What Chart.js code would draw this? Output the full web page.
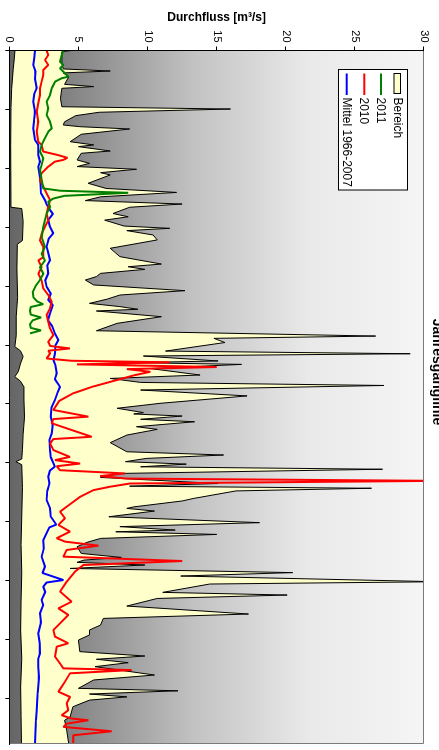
<!DOCTYPE html>
<html>
<head>
<meta charset="utf-8">
<title>Jahresganglinie</title>
<script src="https://cdn.jsdelivr.net/npm/chart.js@4.4.1/dist/chart.umd.min.js"></script>
<style>
  html, body { margin: 0; padding: 0; width: 439px; height: 750px; overflow: hidden; background: #fff; }
  /* the chart is laid out landscape and turned a quarter turn clockwise */
  #frame { position: absolute; left: 0; top: 0; width: 750px; height: 460px;
           transform-origin: 0 0; transform: translate(449px, 0) rotate(90deg); }
  canvas { display: block; }
</style>
</head>
<body>
<div id="frame"><canvas id="chart" width="750" height="460"></canvas></div>
<script>
// Day-of-year tick positions on the time axis
const dayTicks = [0, 31, 62, 93, 124, 155, 186, 217, 248, 279, 310, 341];

// Series as [day, discharge m³/s]
const rangeMax = [
  [0,4.5],[0.6,3.8],[6.8,3.8],[9.7,3.9],[10.8,7.3],[11.8,3.9],[13.8,4.3],[17.8,4.0],[19,6.1],[19.9,3.8],
  [25.2,3.7],[29.6,3.8],[30.8,16.0],[32.5,6.5],[34.3,4.8],[37.5,4.0],[39.2,3.9],[40.1,5.1],[41.3,8.7],[44.1,5.2],
  [48,4.4],[49.7,6.1],[50.6,5.0],[52.9,7.3],[54.1,5.2],[57.6,4.9],[59.4,5.8],[61.1,4.9],[62.5,9.2],[64.3,6.6],
  [65.5,7.3],[69.9,5.7],[72.6,7.0],[74.7,12.1],[77,6.6],[79,5.5],[80.8,12.5],[82.5,8.7],[85.8,7.5],[87.5,8.6],
  [89.3,6.9],[92.4,8.3],[93.6,11.6],[94.8,8.5],[97.1,10.4],[99.7,10.7],[104.1,7.3],[108.5,8.0],[112.4,11.0],[113.8,8.6],
  [115.2,9.8],[117.3,6.6],[119,6.3],[120.8,5.5],[123.4,6.1],[126.4,12.7],[128.7,8.0],[130.8,7.1],[133.1,5.8],[134.8,8.0],
  [136.2,9.3],[137.1,6.3],[140.1,11.0],[143.6,7.8],[147.5,6.3],[150.3,26.5],[151.5,14.8],[153.7,15.6],[158.2,11.3],[159.6,29.0],
  [160.8,9.7],[163.4,15.1],[164.3,9.0],[165.2,16.8],[167.4,10.2],[170.8,13.8],[172.6,7.3],[174.7,9.5],[176.3,27.1],[178.7,9.5],
  [181.8,17.2],[185.7,10.9],[188.3,7.8],[190.6,9.7],[191.3,9.0],[192.4,12.5],[194.1,9.5],[195.4,13.4],[198,9.2],[199.4,10.7],
  [202.4,8.5],[206.4,7.3],[211.2,8.5],[212.9,15.5],[214.7,9.9],[216.4,8.4],[217.7,12.8],[219.1,9.5],[220.4,27.0],[222.6,8.0],
  [224.7,6.6],[227.9,15.1],[229.3,8.7],[230.4,26.2],[231.8,16.4],[235.8,13.3],[237.1,12.5],[240.2,9.0],[241,8.5],[242.4,10.5],
  [245.4,7.2],[248.5,18.1],[250.6,8.0],[252.4,12.0],[253.3,7.7],[254.7,15.0],[256.8,6.6],[258.9,5.6],[261.2,4.9],[264.7,5.2],
  [266.8,8.1],[268.2,5.4],[269.4,4.9],[270.8,9.8],[272.6,4.4],[274.8,20.5],[276.6,12.4],[279.6,31],[280.8,14.5],[285.2,11.1],
  [286.6,20.1],[288.4,10.7],[292.4,8.5],[296.6,17.3],[298.9,6.8],[302.4,6.6],[305,5.8],[307.6,5.8],[310.3,5.0],[316.4,5.1],
  [318.7,9.8],[320.4,6.3],[322.2,8.6],[324.3,6.2],[328.7,10.5],[331.3,6.1],[335.7,5.0],[337,12.2],[338.7,5.8],[340.2,8.5],
  [341.9,5.8],[345.4,4.6],[350.7,4.4],[352.5,4.0],[357.7,4.15],[365,4.3]
];

const rangeMin = [
  [0,0.41],[5,0.35],[10,0.28],[20,0.17],[30,0.12],[50,0.1],[82.5,0.12],[83.2,0.9],[90,1.0],[100,0.95],
  [102,0.58],[115,0.55],[130,0.6],[140,0.5],[150,0.5],[155.9,0.4],[158,0.8],[161,1.0],[165,0.8],[169,0.65],
  [171.7,0.4],[174,0.8],[177,1.06],[184,1.06],[193,1.1],[202,1.0],[210,0.95],[215,0.9],[216.4,0.48],[218,0.9],
  [230,0.95],[245,0.9],[260,0.85],[275,0.9],[290,0.85],[305,0.82],[320,0.9],[335,0.82],[350,0.85],[365,0.88]
];

const flow2011 = [
  [0,3.91],[2.4,3.79],[5.9,3.67],[7.6,3.91],[9.4,3.67],[12,4.03],[13.8,4.27],[14.6,3.79],[16.4,3.31],[19.9,3.07],
  [23.4,2.95],[27,2.7],[30.4,2.82],[34,2.7],[37.5,2.95],[41,3.07],[42.7,2.82],[46.2,2.58],[49.7,2.34],[53.2,2.22],
  [56.8,2.46],[60.3,2.34],[62.9,2.22],[68.2,2.34],[72.6,2.46],[73.8,3.67],[74.9,8.6],[76.5,4.0],[77.9,3.19],[79.6,2.82],
  [82.3,2.95],[85.8,2.7],[89.3,2.58],[92.9,2.46],[98.2,2.34],[103.5,2.58],[107,2.34],[110.5,2.58],[114,2.22],[117.5,2.46],
  [121,2.2],[124,1.9],[127,1.7],[130,1.75],[132,2.0],[133.5,2.45],[135,1.55],[137,1.5],[139,1.55],[140.5,2.3],
  [142,1.7],[144,1.5],[146,1.55],[147.3,2.3],[148.9,1.5]
];

const flow2010 = [
  [0,2.7],[2.4,2.82],[5,2.58],[7.6,2.82],[10.3,2.46],[12.9,2.46],[16.4,2.34],[19.9,2.22],[23.4,2.22],[27.8,2.1],
  [32.2,1.98],[37.5,2.1],[42.7,1.98],[48,2.1],[49.7,2.34],[53.2,2.46],[55,3.5],[56.5,4.2],[57.6,3.9],[58.5,3.3],
  [61.1,2.82],[64.6,2.34],[68.2,2.22],[71.7,2.46],[75.2,2.7],[78.8,2.95],[82.3,2.82],[85.8,2.7],[89.3,2.82],[92.9,2.58],
  [96.4,2.34],[99.9,2.22],[103.5,2.46],[108.8,2.46],[110.5,2.1],[114,2.34],[117.5,2.1],[121.1,2.34],[125.2,2.46],[128.7,2.82],
  [132.2,3.07],[135.7,2.95],[139.2,2.7],[142.7,2.82],[146.3,2.95],[149.8,3.19],[153.3,2.82],[155.5,2.95],[156.8,4.39],[158,2.82],
  [159.4,2.95],[162.1,2.7],[163.3,4.5],[164.1,11.6],[165.2,4.9],[166.6,15.0],[167.7,8.5],[169.1,10.2],[171,9.0],[174.4,7.3],
  [177,6.0],[180.5,4.6],[184.5,3.6],[189.2,3.19],[192.7,5.72],[194,3.19],[196.2,3.07],[203.3,5.96],[204.5,3.19],[206.8,2.95],
  [210.3,3.19],[213.9,4.39],[215.6,3.31],[217.4,5.12],[218.8,3.43],[220.9,3.67],[222.6,8.37],[224,6.56],[225.3,8.5],[226.5,31],
  [227.9,8.73],[229.6,7.29],[231.4,6.08],[234.9,5.12],[239.3,4.3],[242.7,3.67],[246.2,4.03],[249.7,3.55],[253.2,4.39],[256.7,3.43],
  [258.5,4.03],[260.6,6.44],[262.9,4.15],[266.4,3.91],[268.7,12.5],[270.8,5.36],[274.3,4.75],[279.6,4.15],[284.8,3.67],[290.1,4.51],
  [293.6,3.55],[297.1,4.27],[302.4,3.55],[305,3.19],[308.5,3.31],[312,4.27],[313.8,3.43],[319,3.31],[322.6,3.67],[325.2,3.91],
  [326.1,8.85],[327.8,4.39],[332.2,4.03],[334.9,3.79],[337.5,3.55],[340.2,4.39],[343.7,4.15],[347.2,4.27],[349.9,3.79],[351.6,4.51],
  [352.5,5.72],[354.3,4.15],[356,3.91],[358.3,7.41],[360.4,4.63],[365,4.63]
];

const flowMean = [
  [0,1.86],[4,1.8],[7.8,1.74],[11,1.9],[14.9,1.86],[19.9,1.98],[23,1.8],[26.9,1.74],[32.2,1.86],[36,1.8],
  [41,1.74],[47.1,1.86],[49.7,2.1],[55,2.1],[58.5,2.22],[61,2.1],[66,2.2],[70,2.25],[75.2,2.3],[78.7,2.58],
  [81,2.7],[84,2.95],[86,3.15],[89.2,2.82],[92.9,2.95],[96.2,3.18],[99,2.85],[103.2,2.7],[106,2.8],[110.3,2.95],
  [113,2.75],[117.3,2.82],[121,2.6],[124.3,2.7],[128,3.0],[131.3,2.82],[134,3.15],[138.3,2.95],[142,2.8],[145,3.1],
  [148.9,3.3],[152.4,3.55],[155,3.35],[159.4,3.3],[163,3.2],[166,3.35],[169.9,3.43],[173,3.3],[177,3.67],[180,3.5],
  [184,3.3],[188,3.05],[192.7,3.0],[197,3.15],[201.5,3.07],[205,2.9],[210.3,2.95],[214,3.0],[219,3.3],[221,2.95],
  [224.3,2.82],[228,2.9],[232,2.75],[236.6,2.7],[241,2.95],[245.3,3.0],[249.5,3.4],[251,2.9],[254,2.7],[257.6,2.46],
  [262,2.5],[266.4,2.34],[271.6,2.58],[275,2.4],[278.7,3.91],[280,2.7],[282.2,2.46],[285,2.6],[289.2,2.34],[292,2.45],
  [296.2,2.22],[301,2.3],[306.8,2.1],[312,2.2],[317.3,2.22],[320,2.1],[324.3,2.1],[330,2.15],[334.8,2.1],[338,2.05],
  [341.8,2.03],[347,1.98],[352.4,1.93],[358,1.9],[365,1.86]
];

const FONT = "'Liberation Sans', Arial, Helvetica, sans-serif";
Chart.defaults.font.family = FONT;
Chart.defaults.color = '#000';

const YELLOW = '#ffffcc';
const toXY = arr => arr.map(([x, y]) => ({ x, y }));

// grey ramp from low discharge (dark) to high discharge (light)
function flowGradient(chart) {
  const a = chart.chartArea;
  if (!a) return '#777';
  const g = chart.ctx.createLinearGradient(0, a.bottom, 0, a.top);
  g.addColorStop(0.0, '#656565');
  g.addColorStop(0.2, '#8e8e8e');
  g.addColorStop(0.45, '#c3c3c3');
  g.addColorStop(0.72, '#e9e9e9');
  g.addColorStop(1.0, '#f5f5f5');
  return g;
}

const backdrop = {
  id: 'backdrop',
  beforeDatasetsDraw(chart) {
    const { ctx, chartArea: a } = chart;
    ctx.save();
    ctx.fillStyle = flowGradient(chart);
    ctx.fillRect(a.left, a.top, a.right - a.left, a.bottom - a.top);
    ctx.restore();
  }
};

// thin grey edges on the two sides without an axis
const outerEdges = {
  id: 'outerEdges',
  afterDatasetsDraw(chart) {
    const { ctx, chartArea: a } = chart;
    ctx.save();
    ctx.strokeStyle = '#7a7a7a';
    ctx.lineWidth = 1;
    ctx.beginPath();
    const top = Math.round(a.top) + 0.5, right = Math.round(a.right) - 0.5;
    ctx.moveTo(a.left, top); ctx.lineTo(right, top); ctx.lineTo(right, a.bottom);
    ctx.stroke();
    ctx.restore();
  }
};

// boxed legend in the upper-left corner of the plot
const boxLegend = {
  id: 'boxLegend',
  afterDraw(chart) {
    const ctx = chart.ctx;
    const ds = chart.data.datasets;
    const entries = [ds[4], ds[0], ds[1], ds[2]];
    const rows = [51.5, 68, 84.7, 102.3];
    ctx.save();
    ctx.fillStyle = '#fff';
    ctx.fillRect(69.5, 41.5, 120.5, 69);
    ctx.strokeStyle = '#000';
    ctx.lineWidth = 1;
    ctx.strokeRect(69.5, 41.5, 120.5, 69);
    ctx.font = '12px ' + FONT;
    ctx.textBaseline = 'middle';
    entries.forEach((d, i) => {
      const y = rows[i];
      if (i === 0) {
        ctx.fillStyle = YELLOW;
        ctx.fillRect(73.5, y - 3, 20, 6.5);
        ctx.strokeStyle = '#000';
        ctx.lineWidth = 1;
        ctx.strokeRect(73.5, y - 3, 20, 6.5);
      } else {
        ctx.strokeStyle = d.borderColor;
        ctx.lineWidth = 2;
        ctx.beginPath();
        ctx.moveTo(73.5, y); ctx.lineTo(95, y);
        ctx.stroke();
      }
      ctx.fillStyle = '#000';
      ctx.fillText(d.label, 97.5, y + 0.5);
    });
    ctx.restore();
  }
};

const lineBase = { pointRadius: 0, tension: 0, borderJoinStyle: 'bevel', fill: false };

new Chart(document.getElementById('chart'), {
  type: 'line',
  data: {
    datasets: [
      { ...lineBase, label: '2011', data: toXY(flow2011), borderColor: '#008000', borderWidth: 2, order: 0 },
      { ...lineBase, label: '2010', data: toXY(flow2010), borderColor: '#ff0000', borderWidth: 2, order: 1 },
      { ...lineBase, label: 'Mittel 1966-2007', data: toXY(flowMean), borderColor: '#0000ff', borderWidth: 2, order: 2 },
      { ...lineBase, label: 'Minimum', data: toXY(rangeMin), borderColor: '#000', borderWidth: 1,
        fill: 'origin', backgroundColor: ctx => flowGradient(ctx.chart), order: 3 },
      { ...lineBase, label: 'Bereich', data: toXY(rangeMax), borderColor: '#000', borderWidth: 1,
        fill: 'origin', backgroundColor: YELLOW, order: 4 }
    ]
  },
  options: {
    responsive: false,
    animation: false,
    devicePixelRatio: 1,
    layout: { padding: { left: 0, right: 6, top: 0, bottom: 0 } },
    plugins: {
      legend: { display: false },
      tooltip: { enabled: false },
      title: {
        display: true,
        text: 'Jahresganglinie',
        color: '#000',
        font: { size: 14, weight: 'bold' },
        padding: { top: 4, bottom: 4.2 }
      }
    },
    scales: {
      x: {
        type: 'linear', min: 0, max: 365,
        afterBuildTicks: s => { s.ticks = dayTicks.map(v => ({ value: v })); },
        ticks: { display: false },
        grid: { drawOnChartArea: false, drawTicks: true, tickLength: 4, color: '#000' },
        border: { display: true, color: '#000', width: 1, z: 1 },
        afterFit: s => { s.height = 20.3; }
      },
      y: {
        type: 'linear', min: 0, max: 30,
        ticks: { stepSize: 5, color: '#000', font: { size: 11 }, padding: 4 },
        grid: { drawOnChartArea: false, drawTicks: true, tickLength: 4, color: '#000' },
        border: { display: true, color: '#000', width: 1, z: 1 },
        title: {
          display: true, text: 'Durchfluss [m³/s]', color: '#000',
          font: { size: 12, weight: 'bold' }, padding: { top: 10, bottom: 0 }
        },
        afterFit: s => { s.width = 50.5; }
      }
    }
  },
  plugins: [backdrop, outerEdges, boxLegend]
});
</script>
</body>
</html>
